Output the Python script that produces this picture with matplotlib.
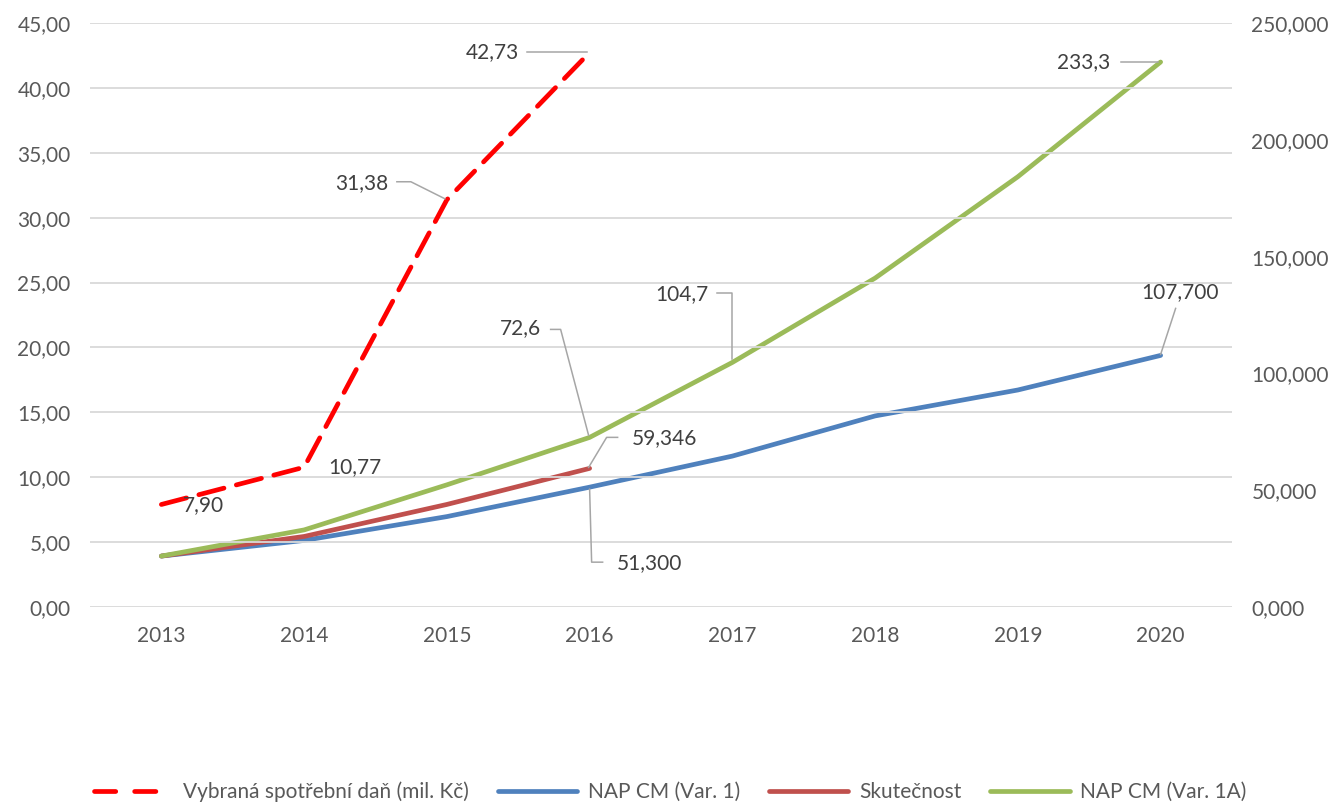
import matplotlib
matplotlib.use("Agg")
import matplotlib.pyplot as plt
from matplotlib.lines import Line2D
from matplotlib.ticker import FuncFormatter, MultipleLocator

plt.rcParams['font.family'] = ['Lato', 'DejaVu Sans']

years = ["2013", "2014", "2015", "2016", "2017", "2018", "2019", "2020"]
dan = [7.90, 10.77, 31.38, 42.73]                      # left axis
nap_var1 = [21.8, 28.5, 38.7, 51.3, 64.6, 81.8, 92.9, 107.7]   # right axis
skutecnost = [21.8, 30.2, 43.9, 59.346]                 # right axis
nap_var1a = [21.8, 33.0, 52.3, 72.6, 104.7, 140.8, 184.2, 233.3]  # right axis

legend_labels = ["Vybraná spotřební daň (mil. Kč)", "NAP CM (Var. 1)",
                 "Skutečnost", "NAP CM (Var. 1A)"]

C_RED = "#FF0000"
C_BLUE = "#4F81BD"
C_DRED = "#C0504D"
C_GREEN = "#9BBB59"
TXT = "#595959"
LBL = "#404040"
LEAD = "#A6A6A6"
FS = 15

W, H, DPI = 1340, 806, 100
fig = plt.figure(figsize=(W / DPI, H / DPI), dpi=DPI)
ax = fig.add_axes([90 / W, 1 - 607 / H, (1232 - 90) / W, (607 - 23) / H])
ax2 = ax.twinx()
ax2.set_position(ax.get_position())

x = list(range(len(years)))
lw = 3.4

ax.set_xlim(-0.5, len(years) - 0.5)
ax.set_ylim(0, 45)
ax2.set_ylim(0, 250)
ax.yaxis.set_major_locator(MultipleLocator(5))
ax2.yaxis.set_major_locator(MultipleLocator(50))
ax.yaxis.set_major_formatter(FuncFormatter(lambda v, p: f"{v:.2f}".replace(".", ",")))
ax2.yaxis.set_major_formatter(FuncFormatter(lambda v, p: f"{v:.3f}".replace(".", ",")))
ax.set_xticks(x)
ax.set_xticklabels(years)

for a in (ax, ax2):
    for s in a.spines.values():
        s.set_visible(False)
    a.tick_params(length=0, labelsize=FS, labelcolor=TXT)
ax.tick_params(axis='y', pad=14)
ax2.tick_params(axis='y', pad=14)
ax.tick_params(axis='x', pad=14)
ax.grid(axis='y', color="#D9D9D9", linewidth=1.3)
ax.set_axisbelow(True)

l_blue, = ax2.plot(x, nap_var1, color=C_BLUE, lw=lw, solid_capstyle='round', zorder=3)
l_dred, = ax2.plot(x[:len(skutecnost)], skutecnost, color=C_DRED, lw=lw, solid_capstyle='round', zorder=4)
l_green, = ax2.plot(x, nap_var1a, color=C_GREEN, lw=lw, solid_capstyle='round', zorder=5)
l_red, = ax2.plot([], [], color=C_RED, lw=lw, dashes=(4.5, 4.0), dash_capstyle='round')
# dashed series on the left axis, drawn on top
ax.set_zorder(ax2.get_zorder() + 1)
ax.patch.set_visible(False)
ax2.patch.set_visible(True)
ax2.patch.set_facecolor("white")
ax.plot(x[:len(dan)], dan, color=C_RED, lw=lw, dashes=(5.5, 2.7), dash_capstyle='round', zorder=6)

fig.canvas.draw()

def fmt(v, d):
    return f"{v:.{d}f}".replace(".", ",")

def label(axis, xi, yv, text, tdx, tdy, ha, leader):
    px, py = axis.transData.transform((xi, yv))
    if leader:
        xs = [px + dx for dx, dy in leader]
        ys = [py + dy for dx, dy in leader]
        fig.add_artist(Line2D(xs, ys, transform=None, color=LEAD, lw=1.1, zorder=10))
    fig.text((px + tdx) / W, (py + tdy) / H, text, transform=fig.transFigure,
             ha=ha, va='center', fontsize=FS, color=LBL, zorder=11)

# left axis labels (dashed red)
label(ax, 0, dan[0], fmt(dan[0], 2), 22, -1, 'left', None)
label(ax, 1, dan[1], fmt(dan[1], 2), 24, 0, 'left', None)
label(ax, 2, dan[2], fmt(dan[2], 2), -59, 17, 'right', [(-50, 18), (-36, 18), (-2, 1)])
label(ax, 3, dan[3], fmt(dan[3], 2), -71, 0, 'right', [(-63, 0), (-3, 0)])
# green
label(ax2, 3, nap_var1a[3], fmt(nap_var1a[3], 1), -49, 109, 'right', [(-39, 108), (-29, 108), (-1, 2)])
label(ax2, 4, nap_var1a[4], fmt(nap_var1a[4], 1), -24, 68, 'right', [(-15, 69), (0, 69), (0, 3)])
label(ax2, 7, nap_var1a[7], fmt(nap_var1a[7], 1), -50, 0, 'right', [(-40, 0), (-3, 0)])
# red solid
label(ax2, 3, skutecnost[3], fmt(skutecnost[3], 3), 42, 30, 'left', [(28, 31), (17, 31), (-1, 1)])
# blue
label(ax2, 3, nap_var1[3], fmt(nap_var1[3], 3), 27, -76, 'left', [(13, -75), (2, -75), (0, -2)])
label(ax2, 7, nap_var1[7], fmt(nap_var1[7], 3), 19, 63, 'center', [(15, 47), (0, 1)])

fig.legend([l_red, l_blue, l_dred, l_green], legend_labels, loc='center',
           bbox_to_anchor=(0.5, 1 - 792 / H), ncol=4, frameon=False,
           fontsize=FS, labelcolor=TXT, handlelength=3.8, handletextpad=0.5,
           columnspacing=1.4)

fig.savefig("out.png", dpi=DPI)
